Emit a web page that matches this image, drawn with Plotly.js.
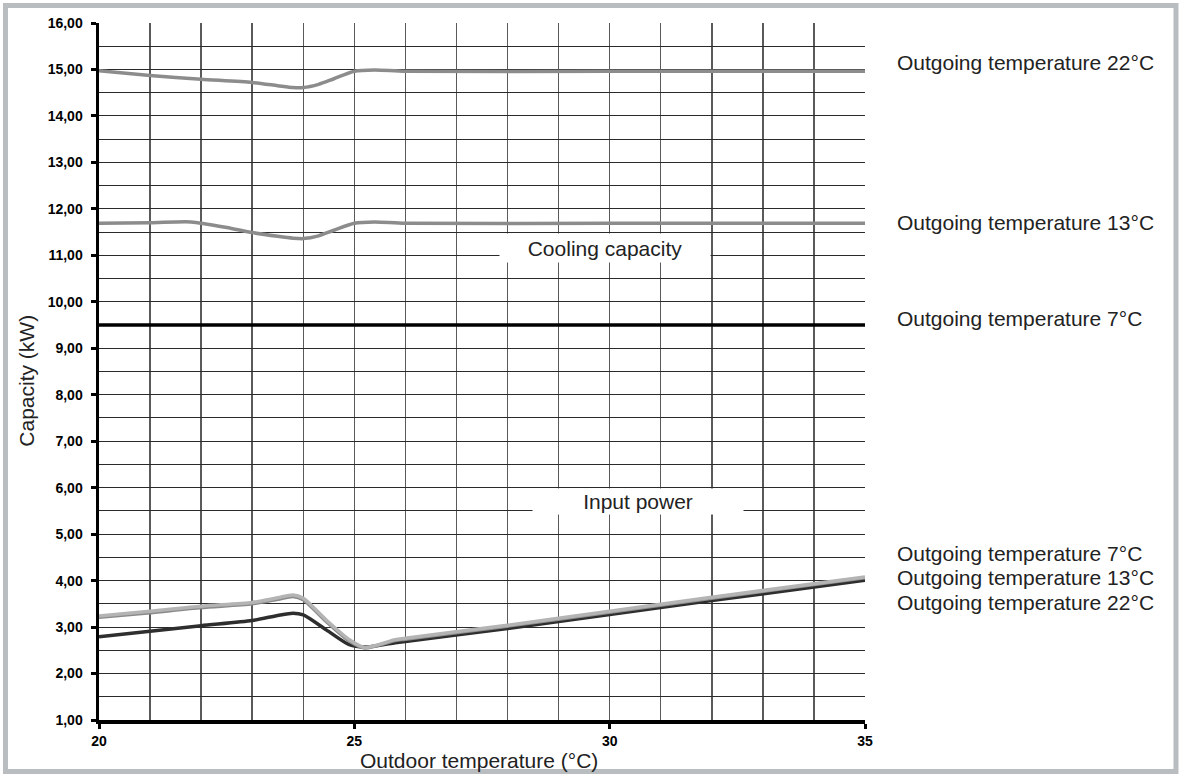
<!DOCTYPE html>
<html>
<head>
<meta charset="utf-8">
<script src="https://cdn.plot.ly/plotly-3.0.1.min.js"></script>
<style>
  html, body { margin: 0; padding: 0; background: #ffffff; }
  #chart { width: 1179px; height: 774px; }
</style>
</head>
<body>
<div id="chart"></div>
<script>
// Cooling capacity (kW) against outdoor temperature (°C)
const coolTemp22 = [20, 21, 22, 23, 23.5, 23.8, 24, 24.3, 24.6, 25, 25.4, 26, 30, 35];
const cool22 = [14.97, 14.87, 14.79, 14.72, 14.65, 14.61, 14.61, 14.68, 14.80, 14.96, 14.99, 14.96, 14.96, 14.96];

const coolTemp13 = [20, 21, 21.8, 22.5, 23, 23.5, 23.8, 24, 24.3, 24.6, 25, 25.4, 26, 30, 35];
const cool13 = [11.69, 11.70, 11.72, 11.60, 11.49, 11.41, 11.37, 11.36, 11.42, 11.54, 11.69, 11.72, 11.69, 11.69, 11.69];

const coolTemp7 = [20, 35];
const cool7 = [9.5, 9.5];

// Input power (kW) against outdoor temperature (°C)
const powerTemp = [20, 21, 22, 23, 23.5, 23.8, 24, 24.45, 24.9, 25.2, 25.8, 26, 28, 30, 32, 35];
const power7 = [3.24, 3.34, 3.45, 3.53, 3.63, 3.69, 3.62, 3.15, 2.73, 2.56, 2.73, 2.76, 3.04, 3.34, 3.64, 4.08];
const power13 = [3.21, 3.31, 3.42, 3.50, 3.60, 3.66, 3.59, 3.12, 2.70, 2.55, 2.71, 2.74, 3.02, 3.32, 3.62, 4.06];
const power22 = [2.79, 2.91, 3.03, 3.14, 3.25, 3.30, 3.26, 2.94, 2.62, 2.57, 2.66, 2.69, 2.97, 3.27, 3.57, 4.01];

// Axis ticks
const xTicks = [20, 25, 30, 35];
const xMinorGrid = [21, 22, 23, 24, 26, 27, 28, 29, 31, 32, 33, 34];
const yTicks = [1, 2, 3, 4, 5, 6, 7, 8, 9, 10, 11, 12, 13, 14, 15, 16];
const yGrid = [1.5, 2, 2.5, 3, 3.5, 4, 4.5, 5, 5.5, 6, 6.5, 7, 7.5, 8, 8.5, 9, 9.5,
               10, 10.5, 11, 11.5, 12, 12.5, 13, 13.5, 14, 14.5, 15, 15.5];

// Text labels
const coolLabels = [
  {text: 'Outgoing temperature 22°C', y: 15.16},
  {text: 'Outgoing temperature 13°C', y: 11.70},
  {text: 'Outgoing temperature 7°C', y: 9.65}
];
const powerLabels = [
  {text: 'Outgoing temperature 7°C', y: 4.59},
  {text: 'Outgoing temperature 13°C', y: 4.06},
  {text: 'Outgoing temperature 22°C', y: 3.52}
];

const FONT = 'Liberation Sans, Arial, Helvetica, sans-serif';
const TEXT = '#222222';

function curve(x, y, color, width, axis) {
  return {
    x: x, y: y, type: 'scatter', mode: 'lines', yaxis: axis,
    line: {color: color, width: width, shape: 'spline', smoothing: 0.7},
    hoverinfo: 'skip', showlegend: false
  };
}

const traces = [
  curve(coolTemp22, cool22, '#8c8c8c', 3.5, 'y2'),
  curve(coolTemp13, cool13, '#8c8c8c', 3.5, 'y2'),
  curve(coolTemp7, cool7, '#000000', 3.5, 'y2'),
  curve(powerTemp, power22, '#2e2e2e', 3.5, 'y'),
  curve(powerTemp, power13, '#8a8a8a', 3.5, 'y'),
  curve(powerTemp, power7, '#b4b4b4', 3.5, 'y')
];

const annotations = [];
coolLabels.concat(powerLabels).forEach(function (l) {
  annotations.push({
    text: l.text, xref: 'paper', x: 1.0392, xanchor: 'left',
    yref: 'y', y: l.y, yanchor: 'middle', showarrow: false,
    font: {family: FONT, size: 21, color: TEXT}
  });
});
// Boxed section labels inside the grid
annotations.push({
  text: 'Cooling capacity', xref: 'x', x: 29.9, yref: 'y', y: 11.16,
  xanchor: 'center', yanchor: 'middle', showarrow: false,
  width: 210, height: 28, bgcolor: '#ffffff', borderpad: 0,
  font: {family: FONT, size: 21, color: TEXT}
});
annotations.push({
  text: 'Input power', xref: 'x', x: 30.55, yref: 'y', y: 5.71,
  xanchor: 'center', yanchor: 'middle', showarrow: false,
  width: 210, height: 25, bgcolor: '#ffffff', borderpad: 0,
  font: {family: FONT, size: 21, color: TEXT}
});
// Axis titles
annotations.push({
  text: 'Outdoor temperature (°C)', xref: 'paper', x: 0.496, yref: 'paper', y: -0.0574,
  xanchor: 'center', yanchor: 'middle', showarrow: false,
  font: {family: FONT, size: 21, color: TEXT}
});
annotations.push({
  text: 'Capacity (kW)', xref: 'paper', x: -0.0944, yref: 'paper', y: 0.4864,
  xanchor: 'center', yanchor: 'middle', showarrow: false, textangle: -90,
  font: {family: FONT, size: 21, color: TEXT}
});

const layout = {
  width: 1179, height: 774,
  margin: {l: 99, r: 314, t: 23, b: 54, pad: 0},
  paper_bgcolor: '#ffffff', plot_bgcolor: '#ffffff',
  separators: ', ',
  showlegend: false,
  font: {family: FONT, color: '#000000'},
  xaxis: {
    range: [20, 35], tickvals: xTicks, tickformat: 'd',
    showline: true, linecolor: '#000000', linewidth: 3.5,
    ticks: 'outside', ticklen: 5, tickwidth: 3, tickcolor: '#000000',
    ticklabelstandoff: 1,
    tickfont: {family: FONT, size: 14, weight: 'bold', color: '#000000'},
    showgrid: true, gridcolor: '#5a5a5a', gridwidth: 1.5,
    minor: {tickvals: xMinorGrid, showgrid: true, gridcolor: '#5a5a5a', gridwidth: 1.5, ticks: ''},
    zeroline: false, fixedrange: true
  },
  yaxis: {
    range: [1, 16], tickvals: yTicks, tickformat: '.2f',
    showline: true, linecolor: '#000000', linewidth: 3.5,
    ticks: 'outside', ticklen: 5, tickwidth: 3, tickcolor: '#000000',
    ticklabelstandoff: 5,
    tickfont: {family: FONT, size: 14, weight: 'bold', color: '#000000'},
    showgrid: false, zeroline: false, fixedrange: true
  },
  yaxis2: {
    overlaying: 'y', side: 'left', range: [1, 16], tickvals: yGrid,
    showticklabels: false, ticks: '', showline: false,
    showgrid: true, gridcolor: '#2a2a2a', gridwidth: 1,
    zeroline: false, fixedrange: true
  },
  annotations: annotations,
  shapes: [{
    type: 'rect', xref: 'paper', yref: 'paper',
    x0: -0.1221, x1: 1.406, y0: -0.0739, y1: 1.0251,
    line: {color: '#b9bdc0', width: 5}, fillcolor: 'rgba(0,0,0,0)', layer: 'above'
  }]
};

Plotly.newPlot('chart', traces, layout, {displayModeBar: false, staticPlot: true});
</script>
</body>
</html>
